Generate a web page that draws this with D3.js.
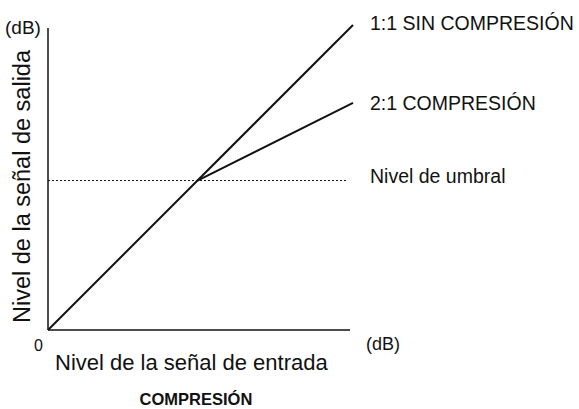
<!DOCTYPE html>
<html>
<head>
<meta charset="utf-8">
<script src="https://cdn.jsdelivr.net/npm/d3@7.9.0/dist/d3.min.js"></script>
<style>
  body { margin: 0; background: #fff; }
  text { font-family: "Liberation Sans", Arial, sans-serif; fill: #111; }
</style>
</head>
<body>
<svg id="chart" width="579" height="409"></svg>
<script>
// input/output levels in dB (arbitrary units 0..100)
const threshold = 49;
const maxLevel = 100;
const yAxisTop = 99;
const uncompressed = [[0, 0], [maxLevel, maxLevel]];
const compressed = [[threshold, threshold], [maxLevel, threshold + (maxLevel - threshold) / 2]];
const lineLabels = ['1:1 SIN COMPRESIÓN', '2:1 COMPRESIÓN', 'Nivel de umbral'];

const svg = d3.select('#chart');
const x = d3.scaleLinear().domain([0, maxLevel]).range([48, 353]);
const y = d3.scaleLinear().domain([0, maxLevel]).range([330, 25]);
const line = d3.line().x((d) => x(d[0])).y((d) => y(d[1]));

// axes
svg.append('line')
  .attr('x1', x(0)).attr('y1', y(0)).attr('x2', x(0)).attr('y2', y(yAxisTop))
  .attr('stroke', '#111').attr('stroke-width', 1.5);
svg.append('line')
  .attr('x1', x(0)).attr('y1', y(0)).attr('x2', x(maxLevel) - 3).attr('y2', y(0))
  .attr('stroke', '#111').attr('stroke-width', 1.5);

// threshold
svg.append('line')
  .attr('x1', x(0)).attr('y1', y(threshold)).attr('x2', x(maxLevel) - 5).attr('y2', y(threshold))
  .attr('stroke', '#111').attr('stroke-width', 1).attr('stroke-dasharray', '2,2');

svg.append('path').attr('d', line(uncompressed))
  .attr('fill', 'none').attr('stroke', '#111').attr('stroke-width', 2);
svg.append('path').attr('d', line(compressed))
  .attr('fill', 'none').attr('stroke', '#111').attr('stroke-width', 2);

// labels at right
const labelY = [uncompressed[1][1], compressed[1][1], threshold];
const labelDy = [5, 7, 2];
svg.selectAll('.lbl')
  .data(lineLabels)
  .join('text')
  .attr('class', 'lbl')
  .attr('x', 370)
  .attr('y', (d, i) => y(labelY[i]) + labelDy[i])
  .attr('font-size', 19.5)
  .text((d) => d);

// axis annotations
svg.append('text').attr('x', 5).attr('y', 34).attr('font-size', 19).text('(dB)');
svg.append('text').attr('x', 366).attr('y', 350).attr('font-size', 18).text('(dB)');
svg.append('text').attr('x', 34).attr('y', 351).attr('font-size', 16).text('0');

svg.append('text')
  .attr('x', 55).attr('y', 370)
  .attr('font-size', 22)
  .text('Nivel de la señal de entrada');

svg.append('text')
  .attr('transform', 'translate(30,323) rotate(-90)')
  .attr('font-size', 23)
  .attr('textLength', 273).attr('lengthAdjust', 'spacingAndGlyphs')
  .text('Nivel de la señal de salida');

svg.append('text')
  .attr('x', 196).attr('y', 405)
  .attr('text-anchor', 'middle')
  .attr('font-size', 16.5).attr('font-weight', 'bold')
  .text('COMPRESIÓN');
</script>
</body>
</html>
